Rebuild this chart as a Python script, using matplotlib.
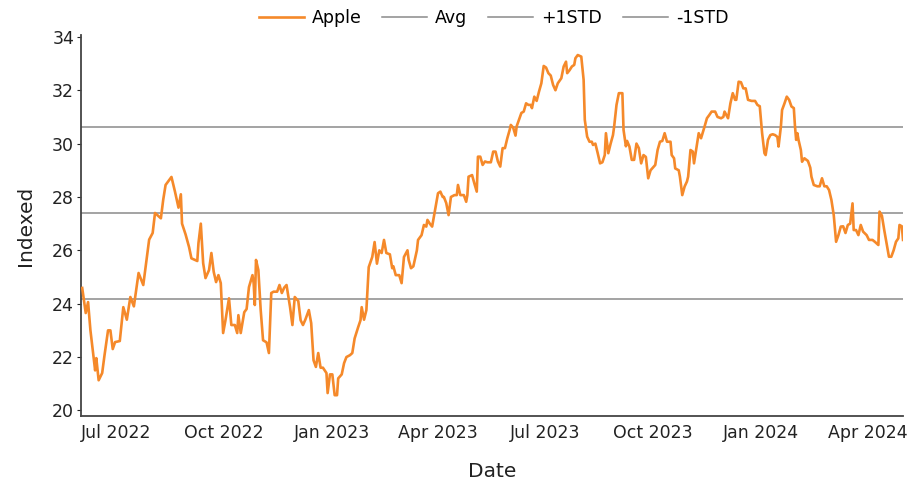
import matplotlib
matplotlib.use("Agg")
import matplotlib.pyplot as plt
import pandas as pd

dates = [
    "2022-06-02", "2022-06-05", "2022-06-07", "2022-06-09", "2022-06-13", "2022-06-14", "2022-06-16",
    "2022-06-19", "2022-06-21", "2022-06-24", "2022-06-26", "2022-06-28", "2022-06-30", "2022-07-04",
    "2022-07-07", "2022-07-10", "2022-07-13", "2022-07-16", "2022-07-20", "2022-07-24", "2022-07-29",
    "2022-08-01", "2022-08-03", "2022-08-08", "2022-08-10", "2022-08-12", "2022-08-17", "2022-08-20",
    "2022-08-23", "2022-08-25", "2022-08-26", "2022-08-29",
    "2022-09-01", "2022-09-03", "2022-09-08", "2022-09-09", "2022-09-11", "2022-09-13", "2022-09-15",
    "2022-09-18", "2022-09-20", "2022-09-22", "2022-09-24", "2022-09-26", "2022-09-28", "2022-09-30",
    "2022-10-02", "2022-10-05", "2022-10-07", "2022-10-10", "2022-10-12", "2022-10-13", "2022-10-15",
    "2022-10-18", "2022-10-20", "2022-10-22", "2022-10-25", "2022-10-26", "2022-10-27", "2022-10-28",
    "2022-10-30", "2022-11-01", "2022-11-03", "2022-11-06", "2022-11-08", "2022-11-10", "2022-11-12",
    "2022-11-15", "2022-11-17", "2022-11-19", "2022-11-21", "2022-11-23", "2022-11-26", "2022-11-28",
    "2022-11-30",
    "2022-12-03", "2022-12-05", "2022-12-07", "2022-12-09", "2022-12-12", "2022-12-14", "2022-12-16",
    "2022-12-18", "2022-12-20", "2022-12-22", "2022-12-24", "2022-12-27", "2022-12-28", "2022-12-30",
    "2023-01-01", "2023-01-03", "2023-01-05", "2023-01-06", "2023-01-09", "2023-01-11", "2023-01-13",
    "2023-01-16", "2023-01-18", "2023-01-20", "2023-01-23", "2023-01-25", "2023-01-26", "2023-01-28",
    "2023-01-30", "2023-02-01", "2023-02-04", "2023-02-06", "2023-02-08", "2023-02-10", "2023-02-12",
    "2023-02-14", "2023-02-16", "2023-02-19", "2023-02-21", "2023-02-22", "2023-02-24", "2023-02-27",
    "2023-03-01", "2023-03-03",
    "2023-03-06", "2023-03-07", "2023-03-09", "2023-03-11", "2023-03-14", "2023-03-15", "2023-03-18",
    "2023-03-20", "2023-03-22", "2023-03-23", "2023-03-25", "2023-03-27", "2023-03-30", "2023-04-01",
    "2023-04-03", "2023-04-05", "2023-04-06", "2023-04-08", "2023-04-10", "2023-04-12", "2023-04-15",
    "2023-04-17", "2023-04-18", "2023-04-20", "2023-04-23", "2023-04-25", "2023-04-26", "2023-04-27",
    "2023-04-30", "2023-05-02", "2023-05-04", "2023-05-05", "2023-05-07", "2023-05-09", "2023-05-11",
    "2023-05-13", "2023-05-16", "2023-05-18", "2023-05-20", "2023-05-22", "2023-05-24", "2023-05-26",
    "2023-05-28", "2023-05-30", "2023-06-01", "2023-06-02", "2023-06-04", "2023-06-06", "2023-06-07",
    "2023-06-11",
    "2023-06-13", "2023-06-15", "2023-06-17", "2023-06-19", "2023-06-20", "2023-06-22", "2023-06-24",
    "2023-06-26", "2023-06-28", "2023-06-30", "2023-07-02", "2023-07-04", "2023-07-06", "2023-07-08",
    "2023-07-10", "2023-07-12", "2023-07-15", "2023-07-17", "2023-07-19", "2023-07-20", "2023-07-22",
    "2023-07-24", "2023-07-26", "2023-07-27", "2023-07-29", "2023-08-01", "2023-08-03", "2023-08-04",
    "2023-08-06", "2023-08-08", "2023-08-10", "2023-08-11", "2023-08-13", "2023-08-15", "2023-08-17",
    "2023-08-19", "2023-08-21", "2023-08-22", "2023-08-24", "2023-08-26", "2023-08-28", "2023-08-29",
    "2023-08-31", "2023-09-02", "2023-09-05", "2023-09-06", "2023-09-08",
    "2023-09-09", "2023-09-11", "2023-09-13", "2023-09-15", "2023-09-17", "2023-09-19", "2023-09-21",
    "2023-09-23", "2023-09-25", "2023-09-27", "2023-09-29", "2023-10-01", "2023-10-03", "2023-10-05",
    "2023-10-07", "2023-10-09", "2023-10-11", "2023-10-13", "2023-10-16", "2023-10-17", "2023-10-19",
    "2023-10-20", "2023-10-23", "2023-10-24", "2023-10-26", "2023-10-28", "2023-10-30", "2023-10-31",
    "2023-11-02", "2023-11-04", "2023-11-05", "2023-11-07", "2023-11-09", "2023-11-11", "2023-11-14",
    "2023-11-16", "2023-11-18", "2023-11-20", "2023-11-23", "2023-11-25", "2023-11-28", "2023-11-30",
    "2023-12-01", "2023-12-04", "2023-12-06", "2023-12-08", "2023-12-10", "2023-12-11", "2023-12-13",
    "2023-12-15", "2023-12-17", "2023-12-19", "2023-12-21", "2023-12-24", "2023-12-27", "2023-12-29",
    "2023-12-31", "2024-01-02", "2024-01-04", "2024-01-05", "2024-01-07", "2024-01-09", "2024-01-11",
    "2024-01-13", "2024-01-15", "2024-01-16", "2024-01-18", "2024-01-19", "2024-01-21", "2024-01-23",
    "2024-01-25", "2024-01-27", "2024-01-29", "2024-01-30", "2024-01-31", "2024-02-01", "2024-02-02",
    "2024-02-04", "2024-02-05", "2024-02-07", "2024-02-10", "2024-02-12",
    "2024-02-13", "2024-02-15", "2024-02-18", "2024-02-20", "2024-02-22", "2024-02-24", "2024-02-26",
    "2024-02-28", "2024-03-01", "2024-03-03", "2024-03-05", "2024-03-07", "2024-03-09", "2024-03-11",
    "2024-03-13", "2024-03-15", "2024-03-17", "2024-03-19", "2024-03-20", "2024-03-22", "2024-03-24",
    "2024-03-26", "2024-03-28", "2024-03-31", "2024-04-02", "2024-04-05", "2024-04-07", "2024-04-10",
    "2024-04-11", "2024-04-13", "2024-04-15", "2024-04-17", "2024-04-19", "2024-04-21", "2024-04-23",
    "2024-04-25", "2024-04-27", "2024-04-28", "2024-04-30", "2024-05-01",
]

apple = [
    24.59, 23.65, 24.06, 23.00, 21.50, 21.96, 21.13,
    21.40, 22.07, 23.00, 23.00, 22.30, 22.56, 22.60,
    23.87, 23.40, 24.25, 23.90, 25.15, 24.70, 26.40,
    26.65, 27.40, 27.20, 27.90, 28.45, 28.75, 28.20,
    27.60, 28.10, 27.00, 26.60,
    26.12, 25.70, 25.60, 26.27, 27.00, 25.52, 24.96,
    25.26, 25.90, 25.19, 24.81, 25.07, 24.77, 22.90,
    23.38, 24.20, 23.20, 23.20, 22.90, 23.57, 22.90,
    23.68, 23.80, 24.62, 25.07, 24.77, 23.95, 25.64,
    25.26, 23.76, 22.63, 22.55, 22.15, 24.40, 24.45,
    24.45, 24.70, 24.40, 24.60, 24.70, 23.87, 23.20,
    24.25,
    24.10, 23.38, 23.20, 23.40, 23.76, 23.27, 21.88,
    21.63, 22.15, 21.60, 21.60, 21.40, 20.65, 21.35,
    21.35, 20.57, 20.57, 21.20, 21.35, 21.77, 22.00,
    22.07, 22.15, 22.70, 23.12, 23.38, 23.87, 23.40,
    23.76, 25.37, 25.75, 26.31, 25.50, 26.00, 25.90,
    26.39, 25.90, 25.85, 25.33, 25.40, 25.07, 25.07,
    24.77, 25.75,
    26.00, 25.64, 25.33, 25.40, 26.00, 26.39, 26.57,
    26.95, 26.89, 27.14, 27.00, 26.89, 27.63, 28.14,
    28.20, 28.00, 28.00, 27.77, 27.32, 28.00, 28.07,
    28.07, 28.45, 28.07, 28.07, 27.82, 28.07, 28.76,
    28.82, 28.50, 28.20, 29.51, 29.51, 29.20, 29.33,
    29.30, 29.30, 29.70, 29.70, 29.33, 29.14, 29.83,
    29.83, 30.20, 30.51, 30.70, 30.60, 30.30, 30.65,
    31.15,
    31.20, 31.51, 31.45, 31.45, 31.33, 31.76, 31.60,
    31.95, 32.26, 32.91, 32.85, 32.64, 32.55, 32.20,
    32.00, 32.26, 32.45, 32.89, 33.07, 32.64, 32.75,
    32.89, 32.95, 33.20, 33.32, 33.26, 32.39, 30.89,
    30.26, 30.07, 30.07, 29.95, 30.00, 29.64, 29.26,
    29.30, 29.57, 30.39, 29.64, 30.00, 30.32, 30.64,
    31.45, 31.89, 31.89, 30.51, 29.90,
    30.10, 29.89, 29.39, 29.39, 30.00, 29.83, 29.26,
    29.57, 29.50, 28.70, 29.00, 29.10, 29.20, 29.76,
    30.07, 30.10, 30.39, 30.07, 30.07, 29.57, 29.45,
    29.07, 29.00, 28.76, 28.07, 28.39, 28.58, 28.76,
    29.76, 29.70, 29.26, 29.82, 30.39, 30.20, 30.64,
    30.95, 31.07, 31.20, 31.20, 31.00, 30.95, 31.00,
    31.20, 30.95, 31.51, 31.89, 31.64, 31.64, 32.32,
    32.30, 32.07, 32.07, 31.64, 31.60, 31.60, 31.45,
    31.40, 30.39, 29.64, 29.57, 30.14, 30.32, 30.35,
    30.32, 30.25, 29.89, 30.64, 31.26, 31.50, 31.76,
    31.64, 31.39, 31.33, 30.64, 30.14, 30.39, 30.14,
    29.76, 29.32, 29.45, 29.35, 29.10,
    28.76, 28.45, 28.40, 28.40, 28.70, 28.40, 28.40,
    28.26, 27.89, 27.32, 26.32, 26.57, 26.89, 26.90,
    26.65, 26.95, 27.00, 27.76, 26.76, 26.76, 26.57,
    26.95, 26.70, 26.57, 26.39, 26.39, 26.32, 26.20,
    27.45, 27.30, 26.76, 26.25, 25.76, 25.76, 26.00,
    26.32, 26.45, 26.95, 26.90, 26.39,
]

avg_value = 27.41
std_value = 3.22
x_ticks = ["2022-07-01", "2022-10-01", "2023-01-01", "2023-04-01",
           "2023-07-01", "2023-10-01", "2024-01-01", "2024-04-01"]
x_tick_labels = ["Jul 2022", "Oct 2022", "Jan 2023", "Apr 2023",
                 "Jul 2023", "Oct 2023", "Jan 2024", "Apr 2024"]
y_ticks = [20, 22, 24, 26, 28, 30, 32, 34]

plt.rcParams['font.family'] = ['DejaVu Sans']

fig = plt.figure(figsize=(9.24, 4.83), dpi=100)
ax = fig.add_axes([0.0877, 0.1387, 0.8896, 0.7888])

x = pd.to_datetime(dates)
ax.plot(x, apple, color='#F5892A', lw=1.9, label='Apple', zorder=3)
ax.axhline(avg_value, color='#8a8a8a', lw=1.1, label='Avg', zorder=2)
ax.axhline(avg_value + std_value, color='#8a8a8a', lw=1.1, label='+1STD', zorder=2)
ax.axhline(avg_value - std_value, color='#8a8a8a', lw=1.1, label='-1STD', zorder=2)

ax.set_xlim(pd.Timestamp("2022-06-01"), pd.Timestamp("2024-05-01"))
ax.set_ylim(19.79, 34.07)
ax.set_xticks(pd.to_datetime(x_ticks))
ax.set_xticklabels(x_tick_labels)
ax.set_yticks(y_ticks)

for s in ['top', 'right']:
    ax.spines[s].set_visible(False)
for s in ['left', 'bottom']:
    ax.spines[s].set_color('#444444')
    ax.spines[s].set_linewidth(1.3)

ax.tick_params(axis='x', length=0, pad=6, labelsize=12.5, colors='#222222')
ax.tick_params(axis='y', length=3, width=0.8, pad=2, labelsize=12.5, colors='#222222')

ax.set_xlabel('Date', fontsize=14.5, labelpad=14, color='#222222')
ax.set_ylabel('Indexed', fontsize=14.5, labelpad=12, color='#222222')

leg = fig.legend(loc='center', bbox_to_anchor=(0.534, 0.963), ncol=4, frameon=False,
                 fontsize=12.5, handlelength=2.6, handletextpad=0.45, columnspacing=1.2,
                 borderaxespad=0)

fig.savefig('out.png', dpi=100)
